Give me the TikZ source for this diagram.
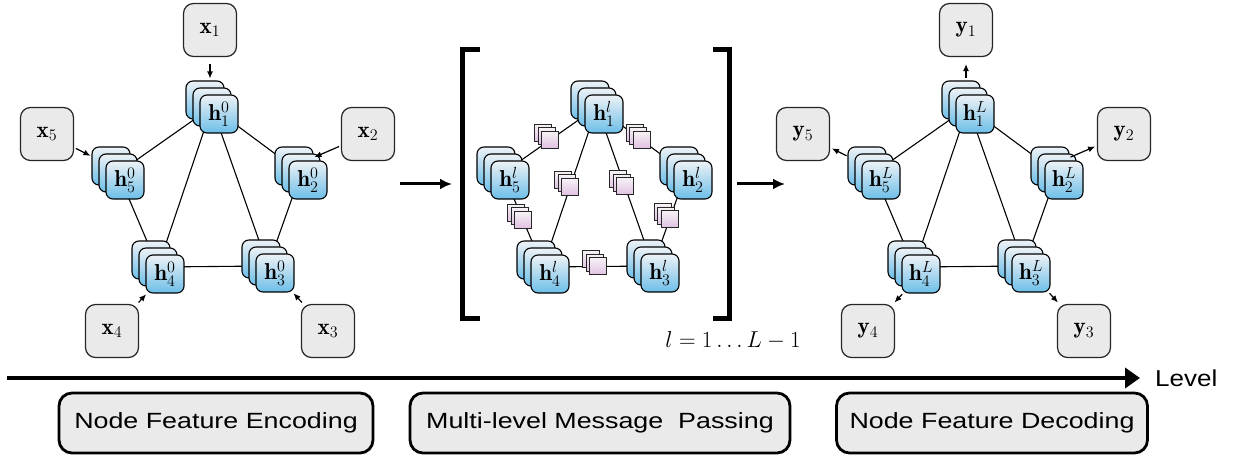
\RequirePackage{fix-cm}
\documentclass[tikz,border=0pt]{standalone}
\usepackage{graphicx}
\usepackage{fontspec}
\newfontfamily\arialfont{Liberation Sans}
\usetikzlibrary{arrows.meta,calc,backgrounds}
\definecolor{hTop}{RGB}{238,242,246}
\definecolor{hBot}{RGB}{108,190,232}
\definecolor{mTop}{RGB}{246,242,246}
\definecolor{mBot}{RGB}{224,192,226}
\definecolor{boxGray}{RGB}{234,234,234}
\newcommand\mathsz{\fontsize{23}{28}\selectfont}
\tikzset{
 hsq/.style={draw=black, line width=1.1pt, rounded corners=7pt, minimum size=38pt, inner sep=0pt, top color=hTop, bottom color=hBot, font=\mathsz},
 msq/.style={draw=black!85, line width=1pt, minimum size=17pt, inner sep=0pt, top color=mTop, bottom color=mBot},
 xbox/.style={draw=black!85, line width=1.2pt, rounded corners=10pt, minimum size=53pt, inner sep=0pt, fill=boxGray, font=\mathsz},
 stagebox/.style={draw=black, line width=2.8pt, rounded corners=13pt, minimum height=60pt, fill=boxGray, inner sep=0pt, font=\arialfont\fontsize{22}{26}\selectfont},
 gedge/.style={line width=1.1pt},
 inarr/.style={line width=1.2pt, -{Latex[length=7pt,width=6pt]}},
 bigarr/.style={line width=3pt, -{Latex[length=12pt,width=11pt]}},
 brack/.style={line width=5pt, line cap=rect, line join=miter},
}
\newcommand\hstk[4]{%
 \node[hsq] (#1a) at (#2-14,#3-14) {};
 \node[hsq] (#1b) at (#2-7,#3-7) {};
 \node[hsq] (#1c) at (#2,#3) {#4};}
\newcommand\mstk[3]{%
 \coordinate (#1) at ($(#2)!0.5!(#3)$);
 \node[msq] (#1a) at ($(#1)+(-7,-7)$) {};
 \node[msq] (#1b) at ($(#1)+(-3.5,-3.5)$) {};
 \node[msq] (#1c) at (#1) {};}
\newcommand\gedges[1]{%
 \begin{scope}[on background layer]
 \draw[gedge] (#11b.center) -- (#12b.center) -- (#13b.center) -- (#14b.center) -- (#15b.center) -- cycle;
 \draw[gedge] (#13b.center) -- (#11b.center) -- (#14b.center);
 \end{scope}}
\begin{document}
\begin{tikzpicture}[x=1pt,y=-1pt]
\useasboundingbox (0,0) rectangle (1235,457);
% ---------- left graph (encoding)
\hstk{L1}{219}{114}{$\mathbf{h}_1^0$}
\hstk{L2}{308}{180}{$\mathbf{h}_2^0$}
\hstk{L3}{275}{273}{$\mathbf{h}_3^0$}
\hstk{L4}{165}{274}{$\mathbf{h}_4^0$}
\hstk{L5}{125}{180}{$\mathbf{h}_5^0$}
\gedges{L}
\node[xbox] (x1) at (210,30) {$\mathbf{x}_1$};
\node[xbox] (x2) at (368,134) {$\mathbf{x}_2$};
\node[xbox] (x3) at (328,331) {$\mathbf{x}_3$};
\node[xbox] (x4) at (112,331) {$\mathbf{x}_4$};
\node[xbox] (x5) at (47,134) {$\mathbf{x}_5$};
\draw[inarr, shorten <=7pt, shorten >=2pt] (x1.south) -- (x1.south |- L1a.north);
\draw[inarr, shorten <=2pt, shorten >=1pt] (x2) -- (L2a);
\draw[inarr, shorten <=2pt, shorten >=1pt] (x5) -- (L5a);
\draw[inarr, shorten <=2pt, shorten >=1pt] (x3) -- (L3c);
\draw[inarr, shorten <=2pt, shorten >=1pt] (x4) -- (L4c);
% ---------- middle graph (message passing)
\hstk{M1}{604}{114}{$\mathbf{h}_1^l$}
\hstk{M2}{693}{180}{$\mathbf{h}_2^l$}
\hstk{M3}{660}{273}{$\mathbf{h}_3^l$}
\hstk{M4}{550}{274}{$\mathbf{h}_4^l$}
\hstk{M5}{510}{180}{$\mathbf{h}_5^l$}
\gedges{M}
\mstk{m12}{M1b}{M2b}
\mstk{m23}{M2b}{M3b}
\mstk{m34}{M3b}{M4b}
\mstk{m45}{M4b}{M5b}
\mstk{m51}{M5b}{M1b}
\mstk{m13}{M1b}{M3b}
\mstk{m14}{M1b}{M4b}
\draw[brack] (477,50) -- (462.5,50) -- (462.5,318) -- (477,318);
\draw[brack] (715,50) -- (729.5,50) -- (729.5,318) -- (715,318);
\node[font=\mathsz] (lrange) at (733,340) {$l=1\ldots L-1$};
\coordinate (ga1) at (400,184); \coordinate (ga2) at (452,184);
\coordinate (gb1) at (737,184); \coordinate (gb2) at (785,184);
\draw[bigarr] (ga1) -- (ga2);
\draw[bigarr] (gb1) -- (gb2);
% ---------- right graph (decoding)
\hstk{R1}{975}{114}{$\mathbf{h}_1^L$}
\hstk{R2}{1064}{180}{$\mathbf{h}_2^L$}
\hstk{R3}{1031}{273}{$\mathbf{h}_3^L$}
\hstk{R4}{921}{274}{$\mathbf{h}_4^L$}
\hstk{R5}{881}{180}{$\mathbf{h}_5^L$}
\gedges{R}
\node[xbox] (y1) at (966,30) {$\mathbf{y}_1$};
\node[xbox] (y2) at (1124,134) {$\mathbf{y}_2$};
\node[xbox] (y3) at (1084,331) {$\mathbf{y}_3$};
\node[xbox] (y4) at (868,331) {$\mathbf{y}_4$};
\node[xbox] (y5) at (803,134) {$\mathbf{y}_5$};
\draw[inarr, shorten >=7pt, shorten <=2pt] (y1.south |- R1a.north) -- (y1.south);
\draw[inarr, shorten >=2pt, shorten <=1pt] (R2a) -- (y2);
\draw[inarr, shorten >=2pt, shorten <=1pt] (R5a) -- (y5);
\draw[inarr, shorten >=2pt, shorten <=1pt] (R3c) -- (y3);
\draw[inarr, shorten >=2pt, shorten <=1pt] (R4c) -- (y4);
% ---------- level axis and stages
\coordinate (axs) at (7,378); \coordinate (axe) at (1140,378);
\draw[line width=4pt, -{Triangle[length=15pt,width=20pt]}] (axs) -- (axe);
\node[anchor=west, inner sep=0pt, font=\arialfont\fontsize{23}{27}\selectfont] (lvl) at (1155,378) {\scalebox{1.13}[1]{Level}};
\node[stagebox, minimum width=314pt] (s1) at (216,423) {\scalebox{1.22}[1]{Node Feature Encoding}};
\node[stagebox, minimum width=380pt] (s2) at (600,423) {\scalebox{1.22}[1]{Multi-level Message\ \ Passing}};
\node[stagebox, minimum width=311pt] (s3) at (992,423) {\scalebox{1.22}[1]{Node Feature Decoding}};
\end{tikzpicture}
\end{document}
